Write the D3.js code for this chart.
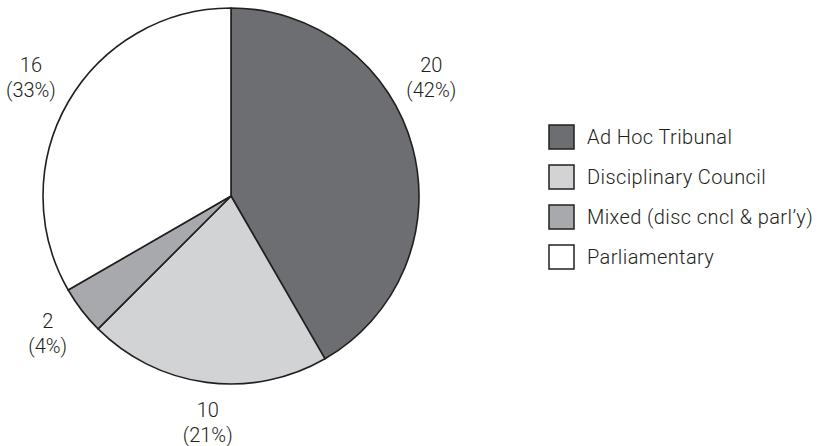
<!DOCTYPE html>
<html>
<head>
<meta charset="utf-8">
<script src="https://cdn.jsdelivr.net/npm/d3@7"></script>
<style>
  body { margin: 0; background: #fff; }
  text { font-family: Roboto, "DejaVu Sans", sans-serif; font-weight: 300; fill: #231f20; }
</style>
</head>
<body>
<svg id="chart"></svg>
<script>
// chart data
const categories = ["Ad Hoc Tribunal", "Disciplinary Council", "Mixed (disc cncl & parl\u2019y)", "Parliamentary"];
const counts = [20, 10, 2, 16];
const percents = [42, 21, 4, 33];
const colors = ["#6d6e71", "#d1d3d4", "#a7a9ac", "#ffffff"];

const width = 822;
const height = 446;
const cx = 231, cy = 196, radius = 188;
const labelRadius = 231;

const svg = d3.select("#chart")
  .attr("width", width)
  .attr("height", height);

const rows = categories.map((c, i) => ({name: c, value: counts[i], pct: percents[i], color: colors[i]}));

const pie = d3.pie()
  .sort(null)
  .value(d => d.value);

const arc = d3.arc()
  .innerRadius(0)
  .outerRadius(radius);

const arcs = pie(rows);

const g = svg.append("g")
  .attr("transform", `translate(${cx},${cy})`);

g.selectAll("path")
  .data(arcs)
  .join("path")
  .attr("d", arc)
  .attr("fill", d => d.data.color)
  .attr("stroke", "#231f20")
  .attr("stroke-width", 1.6)
  .attr("stroke-linejoin", "round");

// labels sit outside the slice, roughly at its mid angle
// (a couple are nudged round a little, as in the original)
const angleShift = {"Ad Hoc Tribunal": -0.26, "Disciplinary Council": -0.03};
const labelPos = d => {
  let a = (d.startAngle + d.endAngle) / 2 + (angleShift[d.data.name] || 0);
  return [labelRadius * Math.sin(a), -labelRadius * Math.cos(a)];
};

const labels = g.selectAll("text.lbl")
  .data(arcs)
  .join("text")
  .attr("class", "lbl")
  .attr("text-anchor", "middle")
  .attr("font-size", 20)
  .attr("transform", d => `translate(${labelPos(d)})`);

labels.append("tspan")
  .attr("x", 0)
  .attr("y", -16)
  .attr("dy", "0.35em")
  .text(d => d.data.value);

labels.append("tspan")
  .attr("x", 0)
  .attr("y", 9)
  .attr("dy", "0.35em")
  .text(d => `(${d.data.pct}%)`);

// legend
const legendY = d3.scaleBand()
  .domain(categories)
  .range([117, 277]);

const legend = svg.append("g")
  .selectAll("g")
  .data(rows)
  .join("g")
  .attr("transform", d => `translate(549,${legendY(d.name) + legendY.bandwidth() / 2})`);

legend.append("rect")
  .attr("x", 0)
  .attr("y", -12)
  .attr("width", 25)
  .attr("height", 24)
  .attr("fill", d => d.color)
  .attr("stroke", "#231f20")
  .attr("stroke-width", 1.5);

legend.append("text")
  .attr("x", 38)
  .attr("dy", "0.35em")
  .attr("font-size", 20)
  .attr("letter-spacing", 0.4)
  .text(d => d.name);
</script>
</body>
</html>
